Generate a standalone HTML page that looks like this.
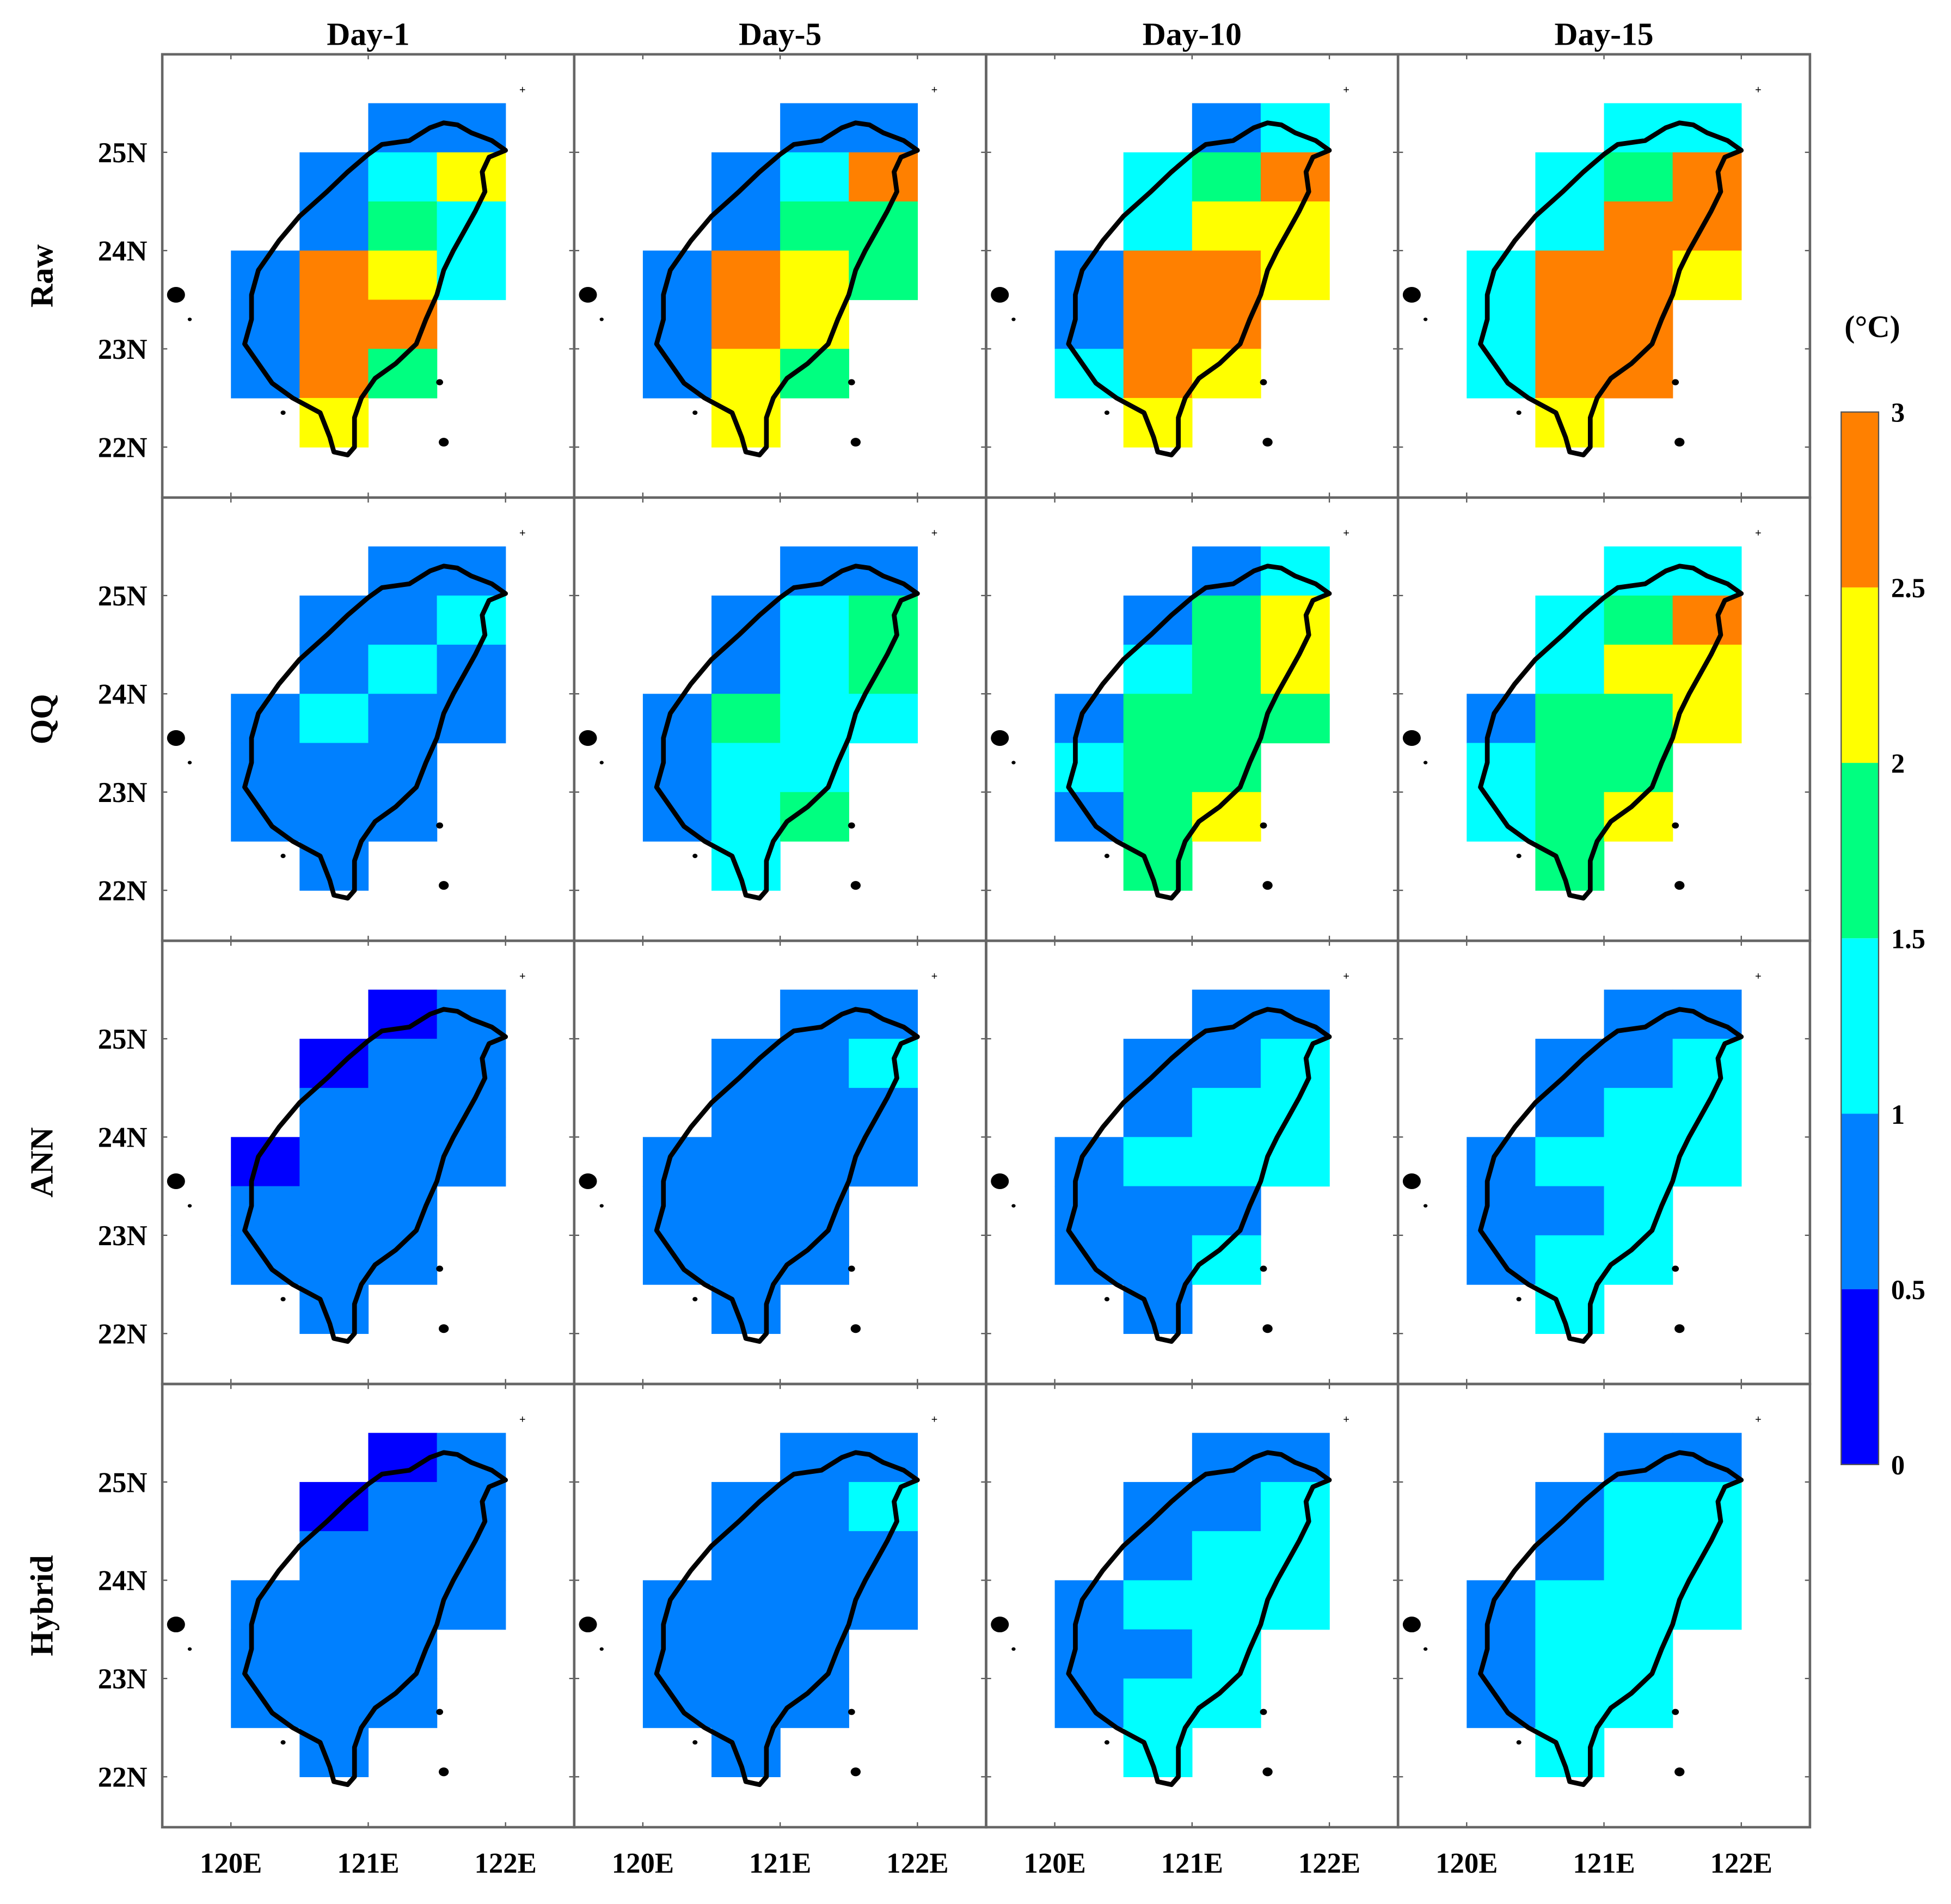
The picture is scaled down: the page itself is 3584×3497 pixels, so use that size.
<!DOCTYPE html>
<html><head><meta charset="utf-8"><style>
html,body{margin:0;padding:0;background:#fff;}
svg{display:block;}
text{font-family:"Liberation Serif",serif;font-weight:bold;fill:#000;}
</style></head><body>
<svg id="fig" width="3584" height="3497" viewBox="0 0 1563 1525" preserveAspectRatio="none" xmlns="http://www.w3.org/2000/svg"></svg>
<script>
// Data: class midpoints per grid cell. Cell order:
// lat25:[121,121.5], lat24.5:[120.5,121,121.5], lat24:[120.5,121,121.5],
// lat23.5:[120,120.5,121,121.5], lat23:[120,120.5,121], lat22.5:[120,120.5,121], lat22:[120.5]
const cellLon=[121,121.5,120.5,121,121.5,120.5,121,121.5,120,120.5,121,121.5,120,120.5,121,120,120.5,121,120.5];
const cellLat=[25,25,24.5,24.5,24.5,24,24,24,23.5,23.5,23.5,23.5,23,23,23,22.5,22.5,22.5,22];
const rowNames=["Raw","QQ","ANN","Hybrid"];
const colNames=["Day-1","Day-5","Day-10","Day-15"];
const rawVals=[
[0.75,0.75,0.75,1.25,2.25,0.75,1.75,1.25,0.75,2.75,2.25,1.25,0.75,2.75,2.75,0.75,2.75,1.75,2.25],
[0.75,0.75,0.75,1.25,2.75,0.75,1.75,1.75,0.75,2.75,2.25,1.75,0.75,2.75,2.25,0.75,2.25,1.75,2.25],
[0.75,1.25,1.25,1.75,2.75,1.25,2.25,2.25,0.75,2.75,2.75,2.25,0.75,2.75,2.75,1.25,2.75,2.25,2.25],
[1.25,1.25,1.25,1.75,2.75,1.25,2.75,2.75,1.25,2.75,2.75,2.25,1.25,2.75,2.75,1.25,2.75,2.75,2.25]];
const qqVals=[
[0.75,0.75,0.75,0.75,1.25,0.75,1.25,0.75,0.75,1.25,0.75,0.75,0.75,0.75,0.75,0.75,0.75,0.75,0.75],
[0.75,0.75,0.75,1.25,1.75,0.75,1.25,1.75,0.75,1.75,1.25,1.25,0.75,1.25,1.25,0.75,1.25,1.75,1.25],
[0.75,1.25,0.75,1.75,2.25,1.25,1.75,2.25,0.75,1.75,1.75,1.75,1.25,1.75,1.75,0.75,1.75,2.25,1.75],
[1.25,1.25,1.25,1.75,2.75,1.25,2.25,2.25,0.75,1.75,1.75,2.25,1.25,1.75,1.75,1.25,1.75,2.25,1.75]];
const annVals=[
[0.25,0.75,0.25,0.75,0.75,0.75,0.75,0.75,0.25,0.75,0.75,0.75,0.75,0.75,0.75,0.75,0.75,0.75,0.75],
[0.75,0.75,0.75,0.75,1.25,0.75,0.75,0.75,0.75,0.75,0.75,0.75,0.75,0.75,0.75,0.75,0.75,0.75,0.75],
[0.75,0.75,0.75,0.75,1.25,0.75,1.25,1.25,0.75,1.25,1.25,1.25,0.75,0.75,0.75,0.75,0.75,1.25,0.75],
[0.75,0.75,0.75,0.75,1.25,0.75,1.25,1.25,0.75,1.25,1.25,1.25,0.75,0.75,1.25,0.75,1.25,1.25,1.25]];
const hybVals=[
[0.25,0.75,0.25,0.75,0.75,0.75,0.75,0.75,0.75,0.75,0.75,0.75,0.75,0.75,0.75,0.75,0.75,0.75,0.75],
[0.75,0.75,0.75,0.75,1.25,0.75,0.75,0.75,0.75,0.75,0.75,0.75,0.75,0.75,0.75,0.75,0.75,0.75,0.75],
[0.75,0.75,0.75,0.75,1.25,0.75,1.25,1.25,0.75,1.25,1.25,1.25,0.75,0.75,1.25,0.75,1.25,1.25,1.25],
[0.75,0.75,0.75,1.25,1.25,0.75,1.25,1.25,0.75,1.25,1.25,1.25,0.75,1.25,1.25,0.75,1.25,1.25,1.25]];
const cbTicks=[0,0.5,1,1.5,2,2.5,3];
const cbColors=["#0000ff","#0080ff","#00ffff","#00ff80","#ffff00","#ff8000"];
const lonTicks=[120,121,122];
const latTicks=[22,23,24,25];
const coast=[[121.55,25.3],[121.65,25.28],[121.75,25.2],[121.9,25.12],[122.0,25.02],[121.88,24.95],[121.83,24.8],[121.85,24.6],[121.78,24.4],[121.7,24.2],[121.62,24.0],[121.55,23.8],[121.5,23.55],[121.42,23.3],[121.35,23.05],[121.2,22.85],[121.05,22.7],[120.95,22.5],[120.9,22.3],[120.9,22.0],[120.85,21.92],[120.75,21.95],[120.72,22.1],[120.65,22.35],[120.45,22.5],[120.3,22.65],[120.2,22.85],[120.1,23.05],[120.15,23.3],[120.15,23.55],[120.2,23.8],[120.35,24.1],[120.5,24.35],[120.7,24.6],[120.85,24.8],[121.0,24.98],[121.1,25.08],[121.3,25.12],[121.45,25.25]];
const islands=[[119.6,23.55,9],[121.52,22.66,3.5],[121.55,22.05,5],[120.38,22.35,2.5],[119.7,23.3,2]];

const NS="http://www.w3.org/2000/svg";
const svg=document.getElementById('fig');
function mk(tag,attrs,parent){const e=document.createElementNS(NS,tag);for(const k in attrs)e.setAttribute(k,attrs[k]);(parent||svg).appendChild(e);return e;}
const X0=130,Y0=43.5,PW=330,PH=355;
function xs(c,lon){return X0+PW*c+55+(lon-120)*110;}
function ys(r,lat){return Y0+PH*r+78.5-(lat-25)*78.7;}
function colorOf(v){let i=Math.floor(v/0.5);i=Math.max(0,Math.min(5,i));return cbColors[i];}
const allVals=[rawVals,qqVals,annVals,hybVals];

for(let r=0;r<4;r++){for(let c=0;c<4;c++){
  const g=mk('g',{});
  
  
  const vals=allVals[r][c];
  for(let k=0;k<vals.length;k++){
    const x=xs(c,cellLon[k]),y=ys(r,cellLat[k]+0.5);
    const rc=mk('rect',{x:x,y:y,width:xs(c,cellLon[k]+0.5)-x+0.3,height:ys(r,cellLat[k])-y+0.3,fill:colorOf(vals[k])},g);
    
    
  }
  const pts=coast.map(p=>xs(c,p[0]).toFixed(1)+','+ys(r,p[1]).toFixed(1)).join(' ');
  const pl=mk('polygon',{points:pts,fill:'none',stroke:'#000','stroke-width':3.8,'stroke-linejoin':'round'},g);
  
  
  for(const is of islands){
    const e=mk('ellipse',{cx:xs(c,is[0]),cy:ys(r,is[1]),rx:is[2]*0.8,ry:is[2]*0.7,fill:'#000'},g);
    
    
  }
  const pm=mk('text',{x:xs(c,122.1),y:ys(r,25.6),'font-size':9},g);pm.textContent='+';
  
  for(const lon of lonTicks){mk('line',{x1:xs(c,lon),x2:xs(c,lon),y1:Y0+PH*r,y2:Y0+PH*r+4,stroke:'#555','stroke-width':1},g);
    mk('line',{x1:xs(c,lon),x2:xs(c,lon),y1:Y0+PH*(r+1),y2:Y0+PH*(r+1)-4,stroke:'#555','stroke-width':1},g);}
  for(const lat of latTicks){mk('line',{x1:X0+PW*c,x2:X0+PW*c+4,y1:ys(r,lat),y2:ys(r,lat),stroke:'#555','stroke-width':1},g);
    mk('line',{x1:X0+PW*(c+1),x2:X0+PW*(c+1)-4,y1:ys(r,lat),y2:ys(r,lat),stroke:'#555','stroke-width':1},g);}
  const fr=mk('rect',{x:X0+PW*c,y:Y0+PH*r,width:PW,height:PH,fill:'none',stroke:'#666','stroke-width':2},g);
  
}}
for(let r=0;r<4;r++){
  for(const lat of latTicks){const t=mk('text',{x:118,y:ys(r,lat)+8,'font-size':23,'text-anchor':'end'});t.textContent=lat+'N';
    }
  const t=mk('text',{x:0,y:0,'font-size':26,'text-anchor':'middle',transform:'translate(42,'+(Y0+PH*r+PH/2)+') rotate(-90)'});
  t.textContent=rowNames[r];
}
for(let c=0;c<4;c++){
  for(const lon of lonTicks){const t=mk('text',{x:xs(c,lon),y:1500,'font-size':23,'text-anchor':'middle'});t.textContent=lon+'E';
    }
  const t=mk('text',{x:X0+PW*c+165,y:36,'font-size':26,'text-anchor':'middle'});t.textContent=colNames[c];
  
}
// colorbar
const CBX=1475,CBW=30,CBT=330,CBB=1173;
function cby(v){return CBB-(v/3)*(CBB-CBT);}
for(let i=0;i<cbColors.length;i++){
  const rc=mk('rect',{x:CBX,y:cby(cbTicks[i+1]),width:CBW,height:cby(cbTicks[i])-cby(cbTicks[i+1]),fill:cbColors[i]});
  
}
mk('rect',{x:CBX,y:CBT,width:CBW,height:CBB-CBT,fill:'none',stroke:'#555','stroke-width':1});
for(const v of cbTicks){const t=mk('text',{x:1515,y:cby(v)+8,'font-size':22});t.textContent=String(v);
  }
const u=mk('text',{x:1500,y:270,'font-size':25,'text-anchor':'middle'});u.textContent='(°C)';

</script>
</body></html>
